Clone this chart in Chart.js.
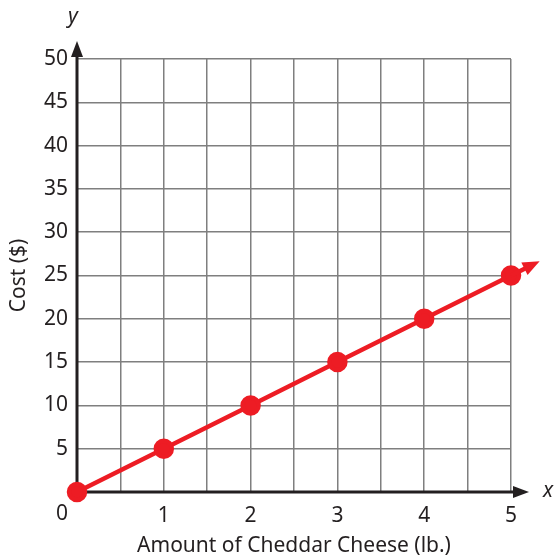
<!DOCTYPE html>
<html>
<head>
<meta charset="utf-8">
<script src="https://cdn.jsdelivr.net/npm/chart.js@4"></script>
<style>
  html, body { margin: 0; padding: 0; background: #fff; }
  #wrap { width: 554px; height: 556px; }
</style>
</head>
<body>
<div id="wrap"><canvas id="myChart"></canvas></div>
<script>
// data
const pounds = [0, 1, 2, 3, 4, 5];
const cost = [0, 5, 10, 15, 20, 25];
const xTicks = [1, 2, 3, 4, 5];
const yTicks = [5, 10, 15, 20, 25, 30, 35, 40, 45, 50];

const ink = '#231f20';
const red = '#ed1c24';
const font = '"Noto Sans", "Open Sans", sans-serif';

function arrow(c, x1, y1, x2, y2, len, half, col) {
    const a = Math.atan2(y2 - y1, x2 - x1);
    c.save();
    c.fillStyle = col;
    c.beginPath();
    c.moveTo(x2, y2);
    c.lineTo(x2 - len * Math.cos(a) + half * Math.sin(a), y2 - len * Math.sin(a) - half * Math.cos(a));
    c.lineTo(x2 - len * Math.cos(a) - half * Math.sin(a), y2 - len * Math.sin(a) + half * Math.cos(a));
    c.closePath();
    c.fill();
    c.restore();
}

// black axes with arrows, drawn under the data
const axesPlugin = {
    id: 'axes',
    beforeDatasetsDraw(chart) {
        const c = chart.ctx, xs = chart.scales.x, ys = chart.scales.y;
        const x0 = xs.getPixelForValue(0), y0 = ys.getPixelForValue(0);
        const top = ys.getPixelForValue(50), right = xs.getPixelForValue(5);
        c.save();
        c.strokeStyle = ink;
        c.lineWidth = 3;
        c.beginPath();
        c.moveTo(x0, y0);
        c.lineTo(x0, top - 4);
        c.moveTo(x0, y0);
        c.lineTo(right + 8, y0);
        c.stroke();
        arrow(c, x0, y0, x0, top - 18, 16, 6, ink);
        arrow(c, x0, y0, right + 18, y0, 16, 6, ink);
        c.fillStyle = ink;
        c.font = 'italic 21px ' + font;
        c.textAlign = 'center';
        c.textBaseline = 'middle';
        c.fillText('y', x0 - 4, top - 42);
        c.fillText('x', right + 37, y0 - 1);
        c.font = '21px ' + font;
        c.fillText('0', x0 - 15, y0 + 22);
        c.restore();
    },
    afterDatasetsDraw(chart) {
        // red line carries on past the last point, ending in an arrowhead
        const c = chart.ctx, xs = chart.scales.x, ys = chart.scales.y;
        const n = pounds.length - 1;
        const slope = (cost[n] - cost[n - 1]) / (pounds[n] - pounds[n - 1]);
        const ext = 0.33;
        const px = xs.getPixelForValue(pounds[n]), py = ys.getPixelForValue(cost[n]);
        const tx = xs.getPixelForValue(pounds[n] + ext), ty = ys.getPixelForValue(cost[n] + slope * ext);
        c.save();
        c.strokeStyle = red;
        c.lineWidth = 4.5;
        c.beginPath();
        c.moveTo(px, py);
        c.lineTo(tx - 8, ty + 4);
        c.stroke();
        arrow(c, px, py, tx, ty, 17, 7, red);
        c.restore();
    }
};

new Chart(document.getElementById('myChart'), {
    type: 'scatter',
    data: {
        datasets: [{
            data: pounds.map((p, i) => ({ x: p, y: cost[i] })),
            showLine: true,
            borderColor: red,
            backgroundColor: red,
            borderWidth: 4.5,
            pointRadius: 8,
            pointHoverRadius: 8,
            clip: false
        }]
    },
    options: {
        responsive: true,
        maintainAspectRatio: false,
        animation: false,
        events: [],
        layout: { padding: { left: 0, top: 59, right: 43, bottom: 0 } },
        plugins: { legend: { display: false }, tooltip: { enabled: false } },
        scales: {
            x: {
                type: 'linear',
                min: 0,
                max: 5,
                afterFit: s => { s.height = 64; },
                border: { display: false },
                grid: { color: '#7f7f7f', lineWidth: 1.5, drawTicks: false },
                ticks: {
                    stepSize: 0.5,
                    autoSkip: false,
                    maxRotation: 0,
                    padding: 11,
                    color: ink,
                    font: { family: font, size: 21 },
                    callback: v => xTicks.includes(v) ? String(v) : ''
                },
                title: {
                    display: true,
                    text: 'Amount of Cheddar Cheese (lb.)',
                    color: ink,
                    font: { family: font, size: 21 },
                    padding: { top: 0, bottom: -3 }
                }
            },
            y: {
                min: 0,
                max: 50,
                afterFit: s => { s.width = 77; },
                border: { display: false },
                grid: { color: '#7f7f7f', lineWidth: 1.5, drawTicks: false },
                ticks: {
                    stepSize: 5,
                    padding: 9,
                    color: ink,
                    font: { family: font, size: 21 },
                    callback: v => yTicks.includes(v) ? String(v) : ''
                },
                title: {
                    display: true,
                    text: 'Cost ($)',
                    color: ink,
                    font: { family: font, size: 21 },
                    padding: { top: 6, bottom: 0 }
                }
            }
        }
    },
    plugins: [axesPlugin]
});
</script>
</body>
</html>
